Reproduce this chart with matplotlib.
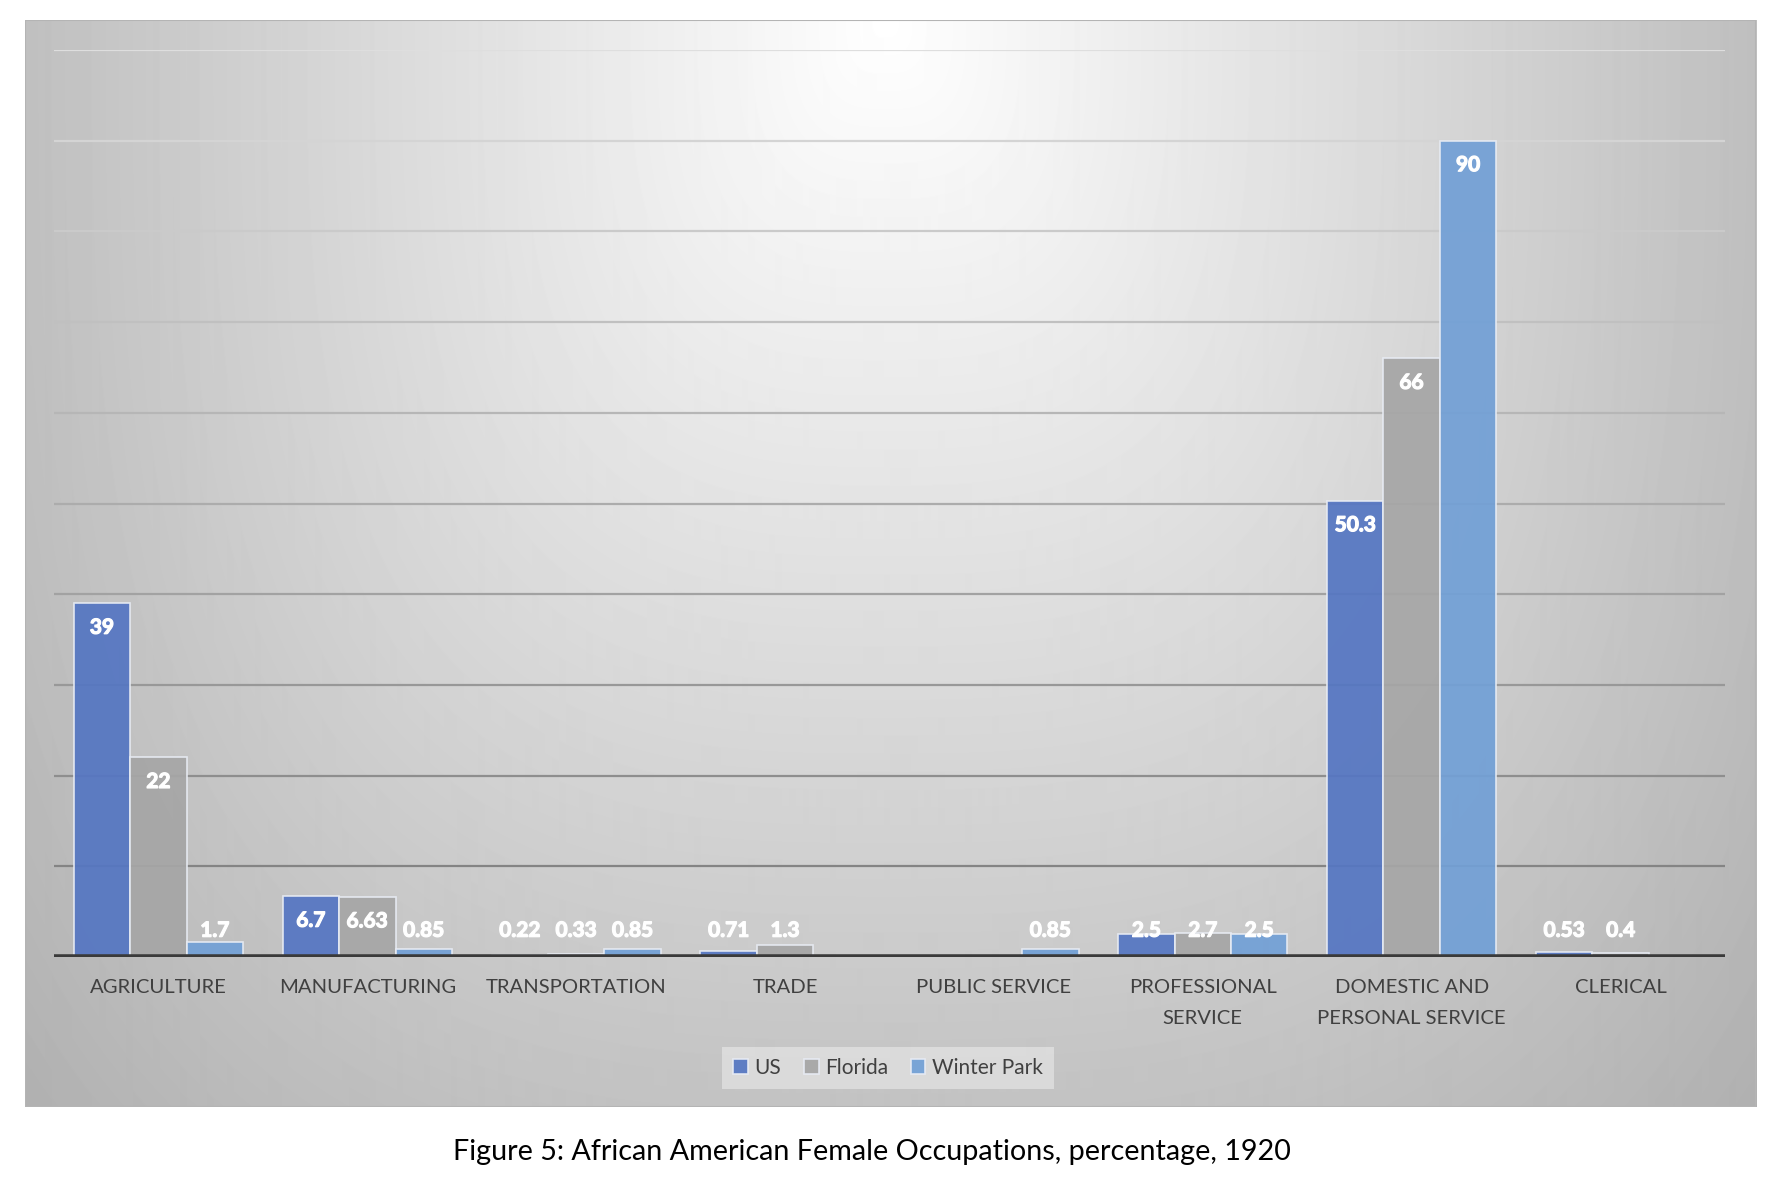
import numpy as np
import matplotlib
matplotlib.use("Agg")
import matplotlib.pyplot as plt
import matplotlib.patheffects as pe
from matplotlib.patches import Rectangle

plt.rcParams['font.family'] = ['Lato', 'DejaVu Sans']

categories = ["AGRICULTURE", "MANUFACTURING", "TRANSPORTATION", "TRADE",
              "PUBLIC SERVICE", "PROFESSIONAL\nSERVICE",
              "DOMESTIC AND\nPERSONAL SERVICE", "CLERICAL"]
us = [39, 6.7, 0.22, 0.71, np.nan, 2.5, 50.3, 0.53]
florida = [22, 6.63, 0.33, 1.3, np.nan, 2.7, 66, 0.4]
winter_park = [1.7, 0.85, 0.85, np.nan, 0.85, 2.5, 90, np.nan]
series_names = ["US", "Florida", "Winter Park"]
colors = ["#5576c2", "#a6a6a6", "#72a0d6"]

W, H = 1776, 1192
fig = plt.figure(figsize=(W / 100, H / 100), dpi=100)
fig.patch.set_facecolor("white")

# gradient background of the chart frame
fx0, fx1, fy0, fy1 = 25, 1756, 20, 1107
bg = fig.add_axes([fx0 / W, 1 - fy1 / H, (fx1 - fx0) / W, (fy1 - fy0) / H])
xs = np.arange(fx0, fx1)
ys = np.arange(fy0, fy1)
X, Y = np.meshgrid(xs, ys)
dx = np.abs(X - 885) / 865.0
dy = np.abs(Y - 20) / 1150.0
d = (dx ** 3 + dy ** 3) ** (1 / 3)
g = np.clip(255 - 64 * d, 0, 255) / 255.0
bg.imshow(g, cmap="gray", vmin=0, vmax=1, aspect="auto",
          extent=(0, 1, 0, 1), interpolation="bilinear")
bg.set_xlim(0, 1)
bg.set_ylim(0, 1)
bg.axis("off")
bg.add_patch(Rectangle((0, 0), 1, 1, transform=bg.transAxes, fill=False,
                       edgecolor="#b4b4b4", lw=1.5))

ax = fig.add_axes([54 / W, 1 - 957 / H, (1725 - 54) / W, (957 - 50) / H])
ax.set_facecolor("none")
ax.set_xlim(-0.5, len(categories) - 0.5)
ax.set_ylim(0, 100)

# gridlines, darker towards the bottom
for lv in range(10, 101, 10):
    gray = (122 + lv * 1.0) / 255.0
    ax.axhline(lv, color=(gray, gray, gray), lw=1.6, zorder=1)

bold = [pe.withStroke(linewidth=0.9, foreground="white")]
x = np.arange(len(categories))
bw = 0.27
for i, (vals, c) in enumerate(zip([us, florida, winter_park], colors)):
    pos = x + (i - 1) * bw
    ax.bar(pos, vals, width=bw, color=c, alpha=0.93, edgecolor="#e8ecf4",
           linewidth=1.2, zorder=2, label=series_names[i])
    for px, v in zip(pos, vals):
        if np.isnan(v):
            continue
        ty = max(v - 2.7, 2.9)
        ax.text(px, ty, f"{v:g}", ha="center", va="center", color="white",
                fontsize=15, fontweight="bold", zorder=4, path_effects=bold)

ax.axhline(0, color="#3a3a3a", lw=4, zorder=3)
for s in ax.spines.values():
    s.set_visible(False)
ax.set_yticks([])
ax.set_xticks(x)
ax.set_xticklabels(categories, fontsize=14.6, color="#404040", linespacing=1.95)
ax.tick_params(axis="x", length=0, pad=16)

leg = fig.legend(loc="center", bbox_to_anchor=(888 / W, 1 - 1068 / H), ncol=3,
                 frameon=True, fontsize=15, handlelength=0.7, handleheight=0.7,
                 handletextpad=0.3, columnspacing=1.1, borderpad=0.55)
leg.get_frame().set_facecolor("#e4e4e4")
leg.get_frame().set_alpha(0.7)
leg.get_frame().set_edgecolor("none")
leg.get_frame().set_boxstyle("square", pad=0)
for t in leg.get_texts():
    t.set_color("#404040")

fig.text(872 / W, 1 - 1152 / H,
         "Figure 5: African American Female Occupations, percentage, 1920",
         ha="center", va="center", fontsize=20.7, color="black")

fig.savefig("out.png", dpi=100)
